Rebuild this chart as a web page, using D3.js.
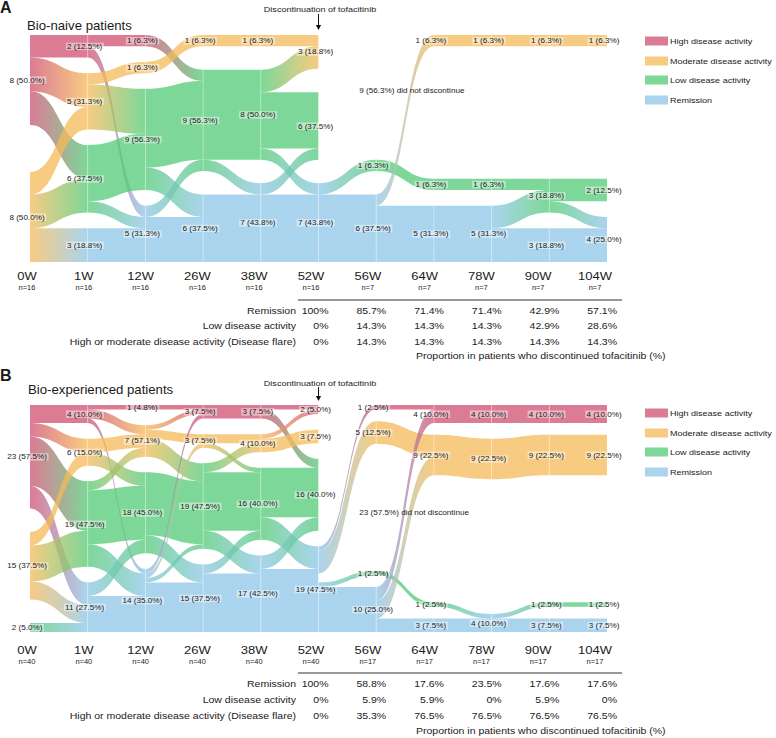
<!DOCTYPE html>
<html><head><meta charset="utf-8">
<script src="https://cdn.jsdelivr.net/npm/d3@7"></script>
<style>
body{margin:0;background:#fff}
svg{display:block}
text{font-family:"Liberation Sans",Arial,Helvetica,sans-serif;fill:#1a1a1a}
</style></head>
<body><svg id="c" width="776" height="738"></svg>
<script>
// ---------------- DATA ----------------
const weeks = ["0W","1W","12W","26W","38W","52W","56W","64W","78W","90W","104W"];
const strataOrder = ["H","M","ND","L","R"];
const legendKeys = ["H","M","L","R"];
const legendLabels = ["High disease activity","Moderate disease activity","Low disease activity","Remission"];
const colors = {H:"#D05070", M:"#F4BA58", L:"#52CA76", R:"#8EC6E8"};

// Panel A: bio-naive
const nA = [16,16,16,16,16,16,7,7,7,7,7];
const highA    = [8,2,1,0,0,0,0,0,0,0,0];
const modA     = [8,5,1,1,1,3,0,1,1,1,1];
const notDiscA = [0,0,0,0,0,0,9,9,9,9,9];
const lowA     = [0,6,9,9,8,6,1,1,1,3,2];
const remA     = [0,3,5,6,7,7,6,5,5,3,4];
// [from column, from stratum, to stratum, patients]
const flowsA = [
 [0,"H","H",2],[0,"H","M",3],[0,"H","L",3],[0,"M","M",2],[0,"M","L",3],[0,"M","R",3],
 [1,"H","H",1],[1,"H","R",1],[1,"M","M",1],[1,"M","L",4],[1,"L","L",5],[1,"L","R",1],[1,"R","R",3],
 [2,"H","L",1],[2,"M","M",1],[2,"L","L",7],[2,"L","R",2],[2,"R","L",1],[2,"R","R",4],
 [3,"M","M",1],[3,"L","L",8],[3,"L","R",1],[3,"R","R",6],
 [4,"M","M",1],[4,"L","M",2],[4,"L","L",5],[4,"L","R",1],[4,"R","L",1],[4,"R","R",6],
 [5,"M","ND",3],[5,"L","ND",6],[5,"R","L",1],[5,"R","R",6],
 [6,"ND","ND",9],[6,"L","L",1],[6,"R","M",1],[6,"R","R",5],
 [7,"M","M",1],[7,"ND","ND",9],[7,"L","L",1],[7,"R","R",5],
 [8,"M","M",1],[8,"ND","ND",9],[8,"L","L",1],[8,"R","L",2],[8,"R","R",3],
 [9,"M","M",1],[9,"ND","ND",9],[9,"L","L",2],[9,"L","R",1],[9,"R","R",3]
];
const tableA_rem  = ["100%","85.7%","71.4%","71.4%","42.9%","57.1%"];
const tableA_low  = ["0%","14.3%","14.3%","14.3%","42.9%","28.6%"];
const tableA_flare= ["0%","14.3%","14.3%","14.3%","14.3%","14.3%"];

// Panel B: bio-experienced
const nB = [40,40,40,40,40,40,17,17,17,17,17];
const highB    = [23,4,1,3,3,2,1,4,4,4,4];
const modB     = [15,6,7,3,4,3,5,9,9,9,9];
const notDiscB = [0,0,0,0,0,0,23,23,23,23,23];
const lowB     = [2,19,18,19,16,16,1,1,0,1,1];
const remB     = [0,11,14,15,17,19,10,3,4,3,3];
const flowsB = [
 [0,"H","H",4],[0,"H","M",3],[0,"H","L",11],[0,"H","R",5],[0,"M","M",3],[0,"M","L",8],[0,"M","R",4],[0,"L","R",2],
 [1,"H","H",1],[1,"H","M",2],[1,"H","R",1],[1,"M","M",3],[1,"M","L",3],[1,"L","M",2],[1,"L","L",12],[1,"L","R",5],[1,"R","L",3],[1,"R","R",8],
 [2,"H","H",1],[2,"M","H",1],[2,"M","M",2],[2,"M","L",4],[2,"L","L",14],[2,"L","R",4],[2,"R","H",1],[2,"R","M",1],[2,"R","L",1],[2,"R","R",11],
 [3,"H","H",3],[3,"M","M",2],[3,"M","L",1],[3,"L","M",2],[3,"L","L",13],[3,"L","R",4],[3,"R","L",2],[3,"R","R",13],
 [4,"H","H",1],[4,"H","L",2],[4,"M","H",1],[4,"M","M",3],[4,"L","L",11],[4,"L","R",5],[4,"R","L",3],[4,"R","R",14],
 [5,"H","ND",2],[5,"M","ND",3],[5,"L","ND",16],[5,"R","H",1],[5,"R","M",5],[5,"R","ND",2],[5,"R","L",1],[5,"R","R",10],
 [6,"H","H",1],[6,"M","M",5],[6,"ND","ND",23],[6,"L","L",1],[6,"R","H",3],[6,"R","M",4],[6,"R","R",3],
 [7,"H","H",4],[7,"M","M",9],[7,"ND","ND",23],[7,"L","R",1],[7,"R","R",3],
 [8,"H","H",4],[8,"M","M",9],[8,"ND","ND",23],[8,"R","L",1],[8,"R","R",3],
 [9,"H","H",4],[9,"M","M",9],[9,"ND","ND",23],[9,"L","L",1],[9,"R","R",3]
];
const labelOverridesB = {"2-H":"1 (4.8%)", "2-M":"7 (57.1%)"};
const tableB_rem  = ["100%","58.8%","17.6%","23.5%","17.6%","17.6%"];
const tableB_low  = ["0%","5.9%","5.9%","0%","5.9%","0%"];
const tableB_flare= ["0%","35.3%","76.5%","76.5%","76.5%","76.5%"];

const tableWeeks = ["52W","56W","64W","78W","90W","104W"];
const tableRowLabels = ["Remission","Low disease activity","High or moderate disease activity (Disease flare)"];
const discText = "Discontinuation of tofacitinib";
const propText = "Proportion in patients who discontinued tofacitinib (%)";
const notDiscSuffix = "did not discontinue";

// ---------------- DRAWING ----------------
const SX = 1.13; // horizontal text stretch of the original figure
const svg = d3.select("#c");
const defs = svg.append("defs");
const X  = d3.scalePoint().domain(weeks).range([30, 607]);
const XL = d3.scalePoint().domain(weeks).range([27, 595]);

function txt(g, x, y, s, size, anchor, opts) {
  opts = opts || {};
  const grp = g.append("g").attr("transform", `translate(${x},${y}) scale(${opts.noStretch?1:SX},1)`);
  const t = grp.append("text").attr("text-anchor", anchor || "start").attr("dy","0.35em")
    .attr("font-size", size).text(s);
  if (opts.weight) t.attr("font-weight", opts.weight);
  if (opts.bg) {
    const b = t.node().getBBox();
    grp.insert("rect","text").attr("x", b.x-1).attr("y", b.y+0.5).attr("width", b.width+2).attr("height", b.height-1)
      .attr("fill","#fff").attr("fill-opacity",0.45);
  }
  return t;
}

const panels = [
 {id:"A", letter:"A", title:"Bio-naive patients", N:16, n:nA,
  counts:{H:highA,M:modA,ND:notDiscA,L:lowA,R:remA}, flows:flowsA, overrides:{},
  top:35, bottom:262, letterY:7, titleY:25, titleX:27, discY:9, arrowY:[14,30],
  legendY:[41,61,80,100], axisY:276, nY:288, lineY:300, rowY:[310.5,326,342], propY:356,
  table:[tableA_rem,tableA_low,tableA_flare]},
 {id:"B", letter:"B", title:"Bio-experienced patients", N:40, n:nB,
  counts:{H:highB,M:modB,ND:notDiscB,L:lowB,R:remB}, flows:flowsB, overrides:labelOverridesB,
  top:405, bottom:632, letterY:375, titleY:389, titleX:28, discY:383, arrowY:[387,401],
  legendY:[413,433,452,472], axisY:650, nY:661.5, lineY:673, rowY:[684,700,716], propY:731,
  table:[tableB_rem,tableB_low,tableB_flare]}
];

panels.forEach(P => {
  const g = svg.append("g");
  const Y = d3.scaleLinear().domain([0, P.N]).range([0, 180]);
  // node layout
  const nodes = weeks.map((w, c) => {
    const present = strataOrder.filter(s => P.counts[s][c] > 0);
    const gap = (P.bottom - P.top - Y(P.N)) / Math.max(1, present.length - 1);
    let y = P.top; const o = {};
    present.forEach(s => { const h = Y(P.counts[s][c]); o[s] = {y0:y, y1:y+h, out:y, inn:y, cnt:P.counts[s][c]}; y += h + gap; });
    return o;
  });
  // flows: order out by target, in by source
  const fl = P.flows.map(f => ({c:f[0], from:f[1], to:f[2], v:f[3]}));
  const oi = s => strataOrder.indexOf(s);
  for (let c = 0; c < weeks.length-1; c++) {
    const cf = fl.filter(f => f.c === c);
    cf.slice().sort((a,b)=> oi(a.from)-oi(b.from) || oi(a.to)-oi(b.to)).forEach(f => {
      const n = nodes[c][f.from]; f.sy0 = n.out; f.sy1 = n.out + Y(f.v); n.out = f.sy1;
    });
    cf.slice().sort((a,b)=> oi(a.to)-oi(b.to) || oi(a.from)-oi(b.from)).forEach(f => {
      const n = nodes[c+1][f.to]; f.ty0 = n.inn; f.ty1 = n.inn + Y(f.v); n.inn = f.ty1;
    });
  }
  const fg = g.append("g");
  fl.filter(f => f.from !== "ND" && f.to !== "ND").forEach((f, i) => {
    const x0 = X(weeks[f.c]), x1 = X(weeks[f.c+1]), xm = (x0+x1)/2;
    const gid = `grad${P.id}${i}`;
    const lg = defs.append("linearGradient").attr("id", gid).attr("gradientUnits","userSpaceOnUse")
      .attr("x1", x0).attr("x2", x1).attr("y1",0).attr("y2",0);
    lg.append("stop").attr("offset","0%").attr("stop-color", colors[f.from]);
    lg.append("stop").attr("offset","100%").attr("stop-color", colors[f.to]);
    const p = d3.path();
    p.moveTo(x0, f.sy0);
    p.bezierCurveTo(xm, f.sy0, xm, f.ty0, x1, f.ty0);
    p.lineTo(x1, f.ty1);
    p.bezierCurveTo(xm, f.ty1, xm, f.sy1, x0, f.sy1);
    p.closePath();
    fg.append("path").attr("d", p.toString()).attr("fill", `url(#${gid})`).attr("fill-opacity", 0.75);
  });
  // seams at columns
  weeks.forEach((w, c) => {
    if (c === 0 || c === weeks.length-1) return;
    Object.entries(nodes[c]).forEach(([s, n]) => {
      if (s === "ND") return;
      g.append("line").attr("x1", X(w)).attr("x2", X(w)).attr("y1", n.y0).attr("y2", n.y1)
        .attr("stroke","#fff").attr("stroke-opacity",0.45).attr("stroke-width",0.8);
    });
  });
  // stratum labels
  weeks.forEach((w, c) => {
    Object.entries(nodes[c]).forEach(([s, n]) => {
      const pct = (n.cnt / P.N * 100).toFixed(1);
      if (s === "ND") {
        if (weeks[c] === "56W") txt(g, X(w) - 17, (n.y0+n.y1)/2 + 5, `${n.cnt} (${pct}%) ${notDiscSuffix}`, 7.2, "start");
        return;
      }
      const lab = P.overrides[`${c}-${s}`] || `${n.cnt} (${pct}%)`;
      txt(g, X(w) - 3, (n.y0+n.y1)/2, lab, 7.2, "middle", {bg:true});
    });
  });
  // panel letter and title
  txt(g, 0, P.letterY, P.letter, 16, "start", {noStretch:true, weight:"bold"});
  txt(g, P.titleX, P.titleY, P.title, 13.2, "start", {noStretch:true});
  // discontinuation arrow
  const xd = X("52W");
  txt(g, xd + 1.5, P.discY, discText, 8, "middle");
  g.append("line").attr("x1", xd).attr("x2", xd).attr("y1", P.arrowY[0]).attr("y2", P.arrowY[1]-4)
    .attr("stroke","#111").attr("stroke-width",1);
  g.append("path").attr("d", `M${xd-2.6},${P.arrowY[1]-5} L${xd+2.6},${P.arrowY[1]-5} L${xd},${P.arrowY[1]} Z`).attr("fill","#111");
  // legend
  legendKeys.forEach((k, i) => {
    g.append("rect").attr("x", 645).attr("y", P.legendY[i]-4.5).attr("width", 23).attr("height", 9)
      .attr("fill", colors[k]).attr("fill-opacity", 0.75);
    txt(g, 670, P.legendY[i], legendLabels[i], 8, "start");
  });
  // axis labels
  weeks.forEach((w, c) => {
    txt(g, XL(w), P.axisY, w, 11.5, "middle");
    txt(g, XL(w), P.nY, `n=${P.n[c]}`, 6.6, "middle");
  });
  // table
  g.append("line").attr("x1", 298).attr("x2", 622).attr("y1", P.lineY).attr("y2", P.lineY)
    .attr("stroke","#333").attr("stroke-width",1);
  tableRowLabels.forEach((r, i) => {
    txt(g, 296, P.rowY[i], r, 9.3, "end");
    P.table[i].forEach((v, j) => txt(g, X(tableWeeks[j]) + 10, P.rowY[i], v, 9.3, "end"));
  });
  txt(g, 416, P.propY, propText, 9.3, "start");
});
</script></body></html>
